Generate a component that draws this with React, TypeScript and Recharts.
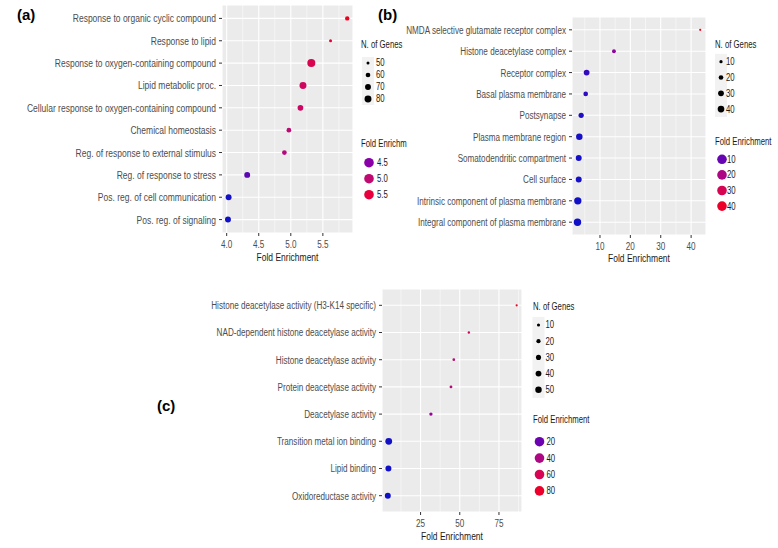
import {
  ScatterChart,
  Scatter,
  XAxis,
  YAxis,
  ZAxis,
  CartesianGrid,
  ReferenceLine,
} from "recharts";

const FONT = "'Liberation Sans', Arial, sans-serif";
const SQUEEZE = 0.74; // the figure's font is a narrow Helvetica

// panel (a) - biological process, listed top to bottom
const termsA = [
  "Response to organic cyclic compound",
  "Response to lipid",
  "Response to oxygen-containing compound",
  "Lipid metabolic proc.",
  "Cellular response to oxygen-containing compound",
  "Chemical homeostasis",
  "Reg. of response to external stimulus",
  "Reg. of response to stress",
  "Pos. reg. of cell communication",
  "Pos. reg. of signaling",
];
const foldA = [5.88, 5.62, 5.32, 5.19, 5.15, 4.97, 4.9, 4.32, 4.03, 4.02];
const genesA = [58, 50, 92, 80, 68, 60, 60, 70, 70, 70];
const xTicksA = [4.0, 4.5, 5.0, 5.5];
const minorA = [4.25, 4.75, 5.25, 5.75];
const sizeBreaksA = [50, 60, 70, 80];
const colorBreaksA = [4.5, 5.0, 5.5];

// panel (b) - cellular component
const termsB = [
  "NMDA selective glutamate receptor complex",
  "Histone deacetylase complex",
  "Receptor complex",
  "Basal plasma membrane",
  "Postsynapse",
  "Plasma membrane region",
  "Somatodendritic compartment",
  "Cell surface",
  "Intrinsic component of plasma membrane",
  "Integral component of plasma membrane",
];
const foldB = [43.0, 14.6, 5.6, 5.3, 3.8, 3.2, 3.0, 3.0, 2.7, 2.6];
const genesB = [5, 14, 30, 20, 25, 38, 32, 32, 48, 49];
const xTicksB = [10, 20, 30, 40];
const minorB = [5, 15, 25, 35];
const sizeBreaksB = [10, 20, 30, 40];
const colorBreaksB = [10, 20, 30, 40];

// panel (c) - molecular function
const termsC = [
  "Histone deacetylase activity (H3-K14 specific)",
  "NAD-dependent histone deacetylase activity",
  "Histone deacetylase activity",
  "Protein deacetylase activity",
  "Deacetylase activity",
  "Transition metal ion binding",
  "Lipid binding",
  "Oxidoreductase activity",
];
const foldC = [86.3, 55.8, 46.2, 44.4, 31.6, 4.7, 4.5, 4.1];
const genesC = [4, 5, 7, 8, 12, 55, 42, 42];
const xTicksC = [25, 50, 75];
const minorC = [12.5, 37.5, 62.5, 87.5];
const sizeBreaksC = [10, 20, 30, 40, 50];
const colorBreaksC = [20, 40, 60, 80];

// blue -> purple -> red gradient, as seen in the figure
const STOPS: [number, number[]][] = [
  [0, [16, 16, 200]],
  [0.26, [138, 0, 168]],
  [0.53, [192, 10, 112]],
  [0.8, [232, 0, 60]],
  [1, [238, 0, 32]],
];

function gradient(t: number) {
  const v = Math.max(0, Math.min(1, t));
  for (let i = 1; i < STOPS.length; i++) {
    const [t0, c0] = STOPS[i - 1];
    const [t1, c1] = STOPS[i];
    if (v <= t1) {
      const k = (v - t0) / (t1 - t0);
      const c = c0.map((x, j) => Math.round(x + (c1[j] - x) * k));
      return `rgb(${c[0]},${c[1]},${c[2]})`;
    }
  }
  return "rgb(238,0,32)";
}

function makeScales(folds: number[], genes: number[], rMin: number, rMax: number) {
  const fMin = Math.min(...folds);
  const fMax = Math.max(...folds);
  const gMin = Math.min(...genes);
  const gMax = Math.max(...genes);
  const areaRange: [number, number] = [Math.PI * rMin * rMin, Math.PI * rMax * rMax];
  return {
    color: (f: number) => gradient((f - fMin) / (fMax - fMin)),
    gDomain: [gMin, gMax] as [number, number],
    areaRange,
    radius: (g: number) => {
      const a = areaRange[0] + ((g - gMin) / (gMax - gMin)) * (areaRange[1] - areaRange[0]);
      return Math.sqrt(Math.max(a, 0.5) / Math.PI);
    },
  };
}

const scalesA = makeScales(foldA, genesA, 1.5, 4.0);
const scalesB = makeScales(foldB, genesB, 1.1, 3.7);
const scalesC = makeScales(foldC, genesC, 1.1, 3.4);

// narrow text: squeeze horizontally around the anchor point
function Narrow({ x, y, anchor = "start", size, fill = "#1a1a1a", children }: any) {
  return (
    <g transform={`translate(${x},${y}) scale(${SQUEEZE},1)`}>
      <text
        x={0}
        y={0}
        textAnchor={anchor}
        dominantBaseline="central"
        fontFamily={FONT}
        fontSize={size}
        fill={fill}
      >
        {children}
      </text>
    </g>
  );
}

interface PanelProps {
  terms: string[];
  folds: number[];
  genes: number[];
  xDomain: [number, number];
  xTicks: number[];
  minor: number[];
  decimals: number;
  scales: ReturnType<typeof makeScales>;
  left: number;
  top: number;
  width: number;
  height: number;
  margin: { top: number; right: number };
  yWidth: number;
  xHeight: number;
  titleGap: number;
  yFont: number;
}

function Panel(p: PanelProps) {
  const n = p.terms.length;
  const data = p.terms.map((term, i) => ({
    term,
    row: n - i,
    fold: p.folds[i],
    genes: p.genes[i],
  }));
  const rows = data.map((d) => d.row).reverse();

  return (
    <div style={{ position: "absolute", left: p.left, top: p.top }}>
      <ScatterChart
        width={p.width}
        height={p.height}
        margin={{ top: p.margin.top, right: p.margin.right, left: 0, bottom: 0 }}
      >
        <CartesianGrid fill="#ebebeb" stroke="#ffffff" strokeWidth={1.1} />
        {p.minor.map((v) => (
          <ReferenceLine key={v} x={v} stroke="#ffffff" strokeWidth={0.5} ifOverflow="hidden" />
        ))}
        <XAxis
          type="number"
          dataKey="fold"
          domain={p.xDomain}
          ticks={p.xTicks}
          allowDataOverflow
          axisLine={false}
          tickLine={{ stroke: "#333333" }}
          tickSize={3}
          tickMargin={3}
          height={p.xHeight}
          tick={(t: any) => (
            <Narrow x={t.x} y={t.y + 5.5} anchor="middle" size={11} fill="#4d4d4d">
              {Number(t.payload.value).toFixed(p.decimals)}
            </Narrow>
          )}
          label={(l: any) => {
            const vb = l.viewBox;
            return (
              <Narrow x={vb.x + vb.width / 2} y={vb.y + p.titleGap} anchor="middle" size={11.5}>
                Fold Enrichment
              </Narrow>
            );
          }}
        />
        <YAxis
          type="number"
          dataKey="row"
          domain={[0.4, n + 0.6]}
          ticks={rows}
          interval={0}
          axisLine={false}
          tickLine={{ stroke: "#333333" }}
          tickSize={3}
          tickMargin={3}
          width={p.yWidth}
          tick={(t: any) => (
            <Narrow x={t.x} y={t.y} anchor="end" size={p.yFont} fill="#4d4d4d">
              {p.terms[n - t.payload.value] ?? ""}
            </Narrow>
          )}
        />
        <ZAxis type="number" dataKey="genes" domain={p.scales.gDomain} range={p.scales.areaRange} />
        <Scatter
          data={data}
          isAnimationActive={false}
          shape={(s: any) => (
            <circle
              cx={s.cx}
              cy={s.cy}
              r={s.width / 2}
              fill={p.scales.color(s.payload.fold)}
            />
          )}
        />
      </ScatterChart>
    </div>
  );
}

interface LegendProps {
  titleX: number;
  keyX: number;
  labelX: number;
  sizeTitleY: number;
  sizeY0: number;
  sizeStep: number;
  sizeBreaks: number[];
  colorTitle: string;
  colorTitleY: number;
  colorY0: number;
  colorStep: number;
  colorBreaks: number[];
  colorDecimals: number;
  scales: ReturnType<typeof makeScales>;
}

function Legends(l: LegendProps) {
  return (
    <g>
      <Narrow x={l.titleX} y={l.sizeTitleY} size={10.5}>
        N. of Genes
      </Narrow>
      <rect
        x={l.keyX - 6}
        y={l.sizeY0 - l.sizeStep / 2}
        width={12}
        height={l.sizeStep * l.sizeBreaks.length}
        fill="#f2f2f2"
      />
      {l.sizeBreaks.map((b, i) => (
        <g key={b}>
          <circle cx={l.keyX} cy={l.sizeY0 + i * l.sizeStep} r={l.scales.radius(b)} fill="#000" />
          <Narrow x={l.labelX} y={l.sizeY0 + i * l.sizeStep} size={10.5}>
            {b}
          </Narrow>
        </g>
      ))}
      <Narrow x={l.titleX} y={l.colorTitleY} size={10.5}>
        {l.colorTitle}
      </Narrow>
      {l.colorBreaks.map((b, i) => (
        <g key={b}>
          <circle cx={l.keyX + 1} cy={l.colorY0 + i * l.colorStep} r={4.8} fill={l.scales.color(b)} />
          <Narrow x={l.labelX + 1} y={l.colorY0 + i * l.colorStep} size={10.5}>
            {b.toFixed(l.colorDecimals)}
          </Narrow>
        </g>
      ))}
    </g>
  );
}

export default function App() {
  return (
    <div style={{ position: "absolute", left: 0, top: 0, width: 778, height: 548, background: "#fff" }}>
      <Panel
        terms={termsA}
        folds={foldA}
        genes={genesA}
        xDomain={[3.927, 5.97]}
        xTicks={xTicksA}
        minor={minorA}
        decimals={1}
        scales={scalesA}
        left={0}
        top={0}
        width={360}
        height={266}
        margin={{ top: 5, right: 7 }}
        yWidth={222}
        xHeight={33}
        titleGap={24.5}
        yFont={11.5}
      />
      <Panel
        terms={termsB}
        folds={foldB}
        genes={genesB}
        xDomain={[0.79, 44.9]}
        xTicks={xTicksB}
        minor={minorB}
        decimals={0}
        scales={scalesB}
        left={390}
        top={0}
        width={320}
        height={266}
        margin={{ top: 17, right: 4 }}
        yWidth={182}
        xHeight={31}
        titleGap={23}
        yFont={11}
      />
      <Panel
        terms={termsC}
        folds={foldC}
        genes={genesC}
        xDomain={[0.4, 89.7]}
        xTicks={xTicksC}
        minor={minorC}
        decimals={0}
        scales={scalesC}
        left={150}
        top={280}
        width={375}
        height={268}
        margin={{ top: 9, right: 3 }}
        yWidth={232}
        xHeight={36}
        titleGap={24.5}
        yFont={11}
      />
      <svg
        width={778}
        height={548}
        style={{ position: "absolute", left: 0, top: 0, pointerEvents: "none" }}
      >
        <g fontFamily={FONT} fontWeight="bold" fontSize={15} fill="#000">
          <text x={17} y={20}>(a)</text>
          <text x={378} y={20}>(b)</text>
          <text x={157} y={411}>(c)</text>
        </g>
        <Legends
          titleX={361}
          keyX={368}
          labelX={376}
          sizeTitleY={45}
          sizeY0={63}
          sizeStep={12}
          sizeBreaks={sizeBreaksA}
          colorTitle="Fold Enrichm"
          colorTitleY={144}
          colorY0={162.7}
          colorStep={16}
          colorBreaks={colorBreaksA}
          colorDecimals={1}
          scales={scalesA}
        />
        <Legends
          titleX={715}
          keyX={721}
          labelX={726}
          sizeTitleY={45}
          sizeY0={61.7}
          sizeStep={15.8}
          sizeBreaks={sizeBreaksB}
          colorTitle="Fold Enrichment"
          colorTitleY={141.7}
          colorY0={159.3}
          colorStep={15.6}
          colorBreaks={colorBreaksB}
          colorDecimals={0}
          scales={scalesB}
        />
        <Legends
          titleX={533}
          keyX={538.5}
          labelX={545.5}
          sizeTitleY={306.7}
          sizeY0={325}
          sizeStep={16.2}
          sizeBreaks={sizeBreaksC}
          colorTitle="Fold Enrichment"
          colorTitleY={419.3}
          colorY0={441.7}
          colorStep={16.4}
          colorBreaks={colorBreaksC}
          colorDecimals={0}
          scales={scalesC}
        />
      </svg>
    </div>
  );
}
